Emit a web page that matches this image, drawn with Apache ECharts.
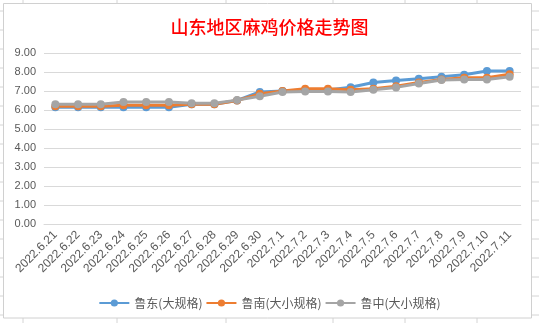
<!DOCTYPE html>
<html>
<head>
<meta charset="utf-8">
<script src="https://cdn.jsdelivr.net/npm/echarts@6/dist/echarts.min.js"></script>
<style>
html,body{margin:0;padding:0;background:#fff;}
#c{width:539px;height:323px;}
</style>
</head>
<body>
<div id="c"></div>
<script>
const titleText = '山东地区麻鸡价格走势图';
const categories = ['2022.6.21','2022.6.22','2022.6.23','2022.6.24','2022.6.25','2022.6.26','2022.6.27','2022.6.28','2022.6.29','2022.6.30','2022.7.1','2022.7.2','2022.7.3','2022.7.4','2022.7.5','2022.7.6','2022.7.7','2022.7.8','2022.7.9','2022.7.10','2022.7.11'];
const seriesNames = ['鲁东(大规格)','鲁南(大小规格)','鲁中(大小规格)'];
const ludong = [6.15,6.15,6.15,6.15,6.15,6.15,6.3,6.3,6.5,6.95,7.0,7.05,7.05,7.2,7.45,7.55,7.65,7.75,7.85,8.05,8.05];
const lunan  = [6.2,6.2,6.2,6.25,6.25,6.25,6.3,6.3,6.5,6.85,7.0,7.12,7.12,7.07,7.12,7.25,7.45,7.6,7.7,7.7,7.88];
const luzhong= [6.3,6.3,6.3,6.42,6.42,6.42,6.35,6.35,6.52,6.72,6.95,6.97,6.97,6.95,7.07,7.19,7.4,7.58,7.6,7.6,7.75];
const colors = ['#5B9BD5','#ED7D31','#A5A5A5'];

// Excel sheet grid lines around the chart (background decoration)
const bg = [];
[23,117,226,333,405,477].forEach(x => bg.push({type:'line',silent:true,z:-10,shape:{x1:x,y1:0,x2:x,y2:3},style:{stroke:'#D4D4D4',lineWidth:1}}));
[23,117,226,333,405,477].forEach(x => bg.push({type:'line',silent:true,z:-10,shape:{x1:x,y1:318,x2:x,y2:323},style:{stroke:'#D4D4D4',lineWidth:1}}));
for (let y = 11; y < 323; y += 19) {
  bg.push({type:'line',silent:true,z:-10,shape:{x1:0,y1:y,x2:3,y2:y},style:{stroke:'#D4D4D4',lineWidth:1}});
  bg.push({type:'line',silent:true,z:-10,shape:{x1:532,y1:y,x2:539,y2:y},style:{stroke:'#D4D4D4',lineWidth:1}});
}
bg.push({type:'rect',silent:true,z:-5,shape:{x:3.5,y:3.5,width:528,height:314.5},style:{fill:'#fff',stroke:'#D0D0D0',lineWidth:1}});

const chart = echarts.init(document.getElementById('c'));
const mk = (i, data) => ({
  name: seriesNames[i], type: 'line', data: data,
  symbol: 'circle', symbolSize: 8,
  lineStyle: {width: 3, color: colors[i]},
  itemStyle: {color: colors[i]},
  emphasis: {disabled: true}
});
chart.setOption({
  animation: false,
  color: colors,
  graphic: bg,
  title: {
    text: titleText, left: 'center', top: 13,
    textStyle: {color: '#FF0000', fontSize: 18, fontWeight: 500, fontFamily: '"Noto Sans CJK SC", sans-serif'}
  },
  legend: {
    data: seriesNames, left: 'center', top: 292,
    itemWidth: 30, itemHeight: 9, itemGap: 3,
    textStyle: {color: '#595959', fontSize: 12, fontFamily: '"Noto Sans CJK SC", sans-serif'}
  },
  grid: {left: 44, right: 18, top: 53, bottom: 99, containLabel: false},
  xAxis: {
    type: 'category', data: categories, boundaryGap: true,
    axisLine: {show: true, lineStyle: {color: '#D9D9D9'}},
    axisTick: {show: false},
    axisLabel: {rotate: 45, interval: 0, color: '#595959', fontSize: 12, margin: 9, fontFamily: '"Liberation Sans", Arial, sans-serif'}
  },
  yAxis: {
    type: 'value', min: 0, max: 9, interval: 1,
    axisLine: {show: false}, axisTick: {show: false},
    splitLine: {lineStyle: {color: '#D9D9D9', width: 1}},
    axisLabel: {formatter: v => v.toFixed(2), color: '#595959', fontSize: 11, margin: 8, fontFamily: '"Liberation Sans", Arial, sans-serif'}
  },
  series: [mk(0, ludong), mk(1, lunan), mk(2, luzhong)]
});
</script>
</body>
</html>
